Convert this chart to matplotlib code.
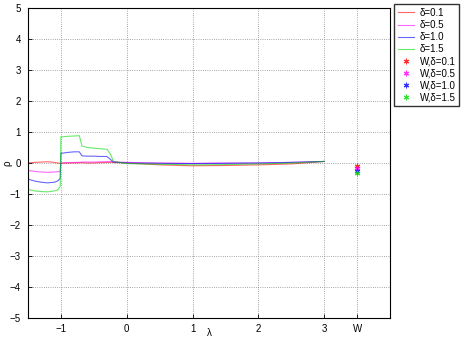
import numpy as np
import matplotlib
matplotlib.use('Agg')
import matplotlib.pyplot as plt

plt.rcParams['font.family'] = ['Liberation Sans', 'DejaVu Sans']
plt.rcParams['font.size'] = 7

#
# Data
#
lam = [-1.5, -1.4, -1.3, -1.2, -1.1, -1.05, -1.01, -1.0, -0.9, -0.8, -0.72, -0.68,
       -0.6, -0.5, -0.4, -0.3, -0.25, -0.2, 0.0, 0.5, 1.0, 1.5, 2.0, 2.5, 3.0]

rho_01 = [0.0, 0.02, 0.03, 0.04, 0.02, 0.0, -0.01, -0.01, 0.0, 0.0, 0.01, 0.01,
          0.0, 0.0, 0.01, 0.02, 0.02, 0.02, 0.0, -0.06, -0.09, -0.08, -0.06, -0.03, 0.05]
rho_05 = [-0.24, -0.27, -0.29, -0.30, -0.29, -0.28, -0.27, 0.0, 0.01, 0.02, 0.02, 0.03,
          0.03, 0.03, 0.04, 0.04, 0.05, 0.04, 0.02, 0.0, -0.01, 0.0, 0.0, 0.02, 0.05]
rho_10 = [-0.52, -0.58, -0.62, -0.64, -0.62, -0.58, -0.5, 0.31, 0.34, 0.36, 0.36, 0.23,
          0.22, 0.22, 0.21, 0.21, 0.12, 0.03, 0.0, -0.01, -0.02, -0.01, 0.0, 0.02, 0.05]
rho_15 = [-0.85, -0.9, -0.92, -0.93, -0.9, -0.87, -0.75, 0.84, 0.86, 0.87, 0.88, 0.55,
          0.5, 0.48, 0.46, 0.44, 0.3, 0.05, -0.02, -0.04, -0.06, -0.05, -0.03, 0.0, 0.05]

w_pos = 3.5
w_rho = [-0.1, -0.17, -0.25, -0.32]

deltas = ['0.1', '0.5', '1.0', '1.5']
colors = ['#ff0000', '#ff00ff', '#0000ff', '#00dd00']

xticks = [-1, 0, 1, 2, 3, 3.5]
xticklabels = ['\u22121', '0', '1', '2', '3', 'W']
yticks = [-5, -4, -3, -2, -1, 0, 1, 2, 3, 4, 5]

#
# Plot
#
fig = plt.figure(figsize=(4.66, 3.41), dpi=100)
ax = fig.add_axes([0.06, 0.067, 0.777, 0.91])

for d, c, r in zip(deltas, colors, [rho_01, rho_05, rho_10, rho_15]):
    ax.plot(lam, r, color=c, lw=0.8, alpha=0.6, label='\u03b4=' + d)
for d, c, r in zip(deltas, colors, w_rho):
    ax.plot([w_pos], [r], ls='none', marker=(6, 2, 0), ms=4, mew=0.8,
            color=c, alpha=0.8, label='W,\u03b4=' + d)

ax.set_xlim(-1.5, 4)
ax.set_ylim(-5, 5)
ax.set_xticks(xticks)
ax.set_xticklabels(xticklabels)
ax.set_yticks(yticks)
ax.set_yticklabels([str(t).replace('-', '\u2212') for t in yticks])
ax.tick_params(direction='in', length=3, width=0.6)
ax.tick_params(axis='y', pad=5)
ax.tick_params(axis='x', pad=4)
ax.grid(True, ls=':', color='#888888', lw=0.6)
for s in ax.spines.values():
    s.set_linewidth(0.8)
ax.set_xlabel('\u03bb')
ax.set_ylabel('\u03c1')
ax.xaxis.set_label_coords(0.5, -0.033)
ax.yaxis.set_label_coords(-0.042, 0.5)

fig.legend(loc='upper left', bbox_to_anchor=(0.846, 0.987), frameon=True,
           fancybox=False, edgecolor='black', handlelength=1.7, labelspacing=0.22,
           borderpad=0.35, handletextpad=0.6, borderaxespad=0.0, markerscale=1.0)

fig.savefig('out.png', dpi=100)
